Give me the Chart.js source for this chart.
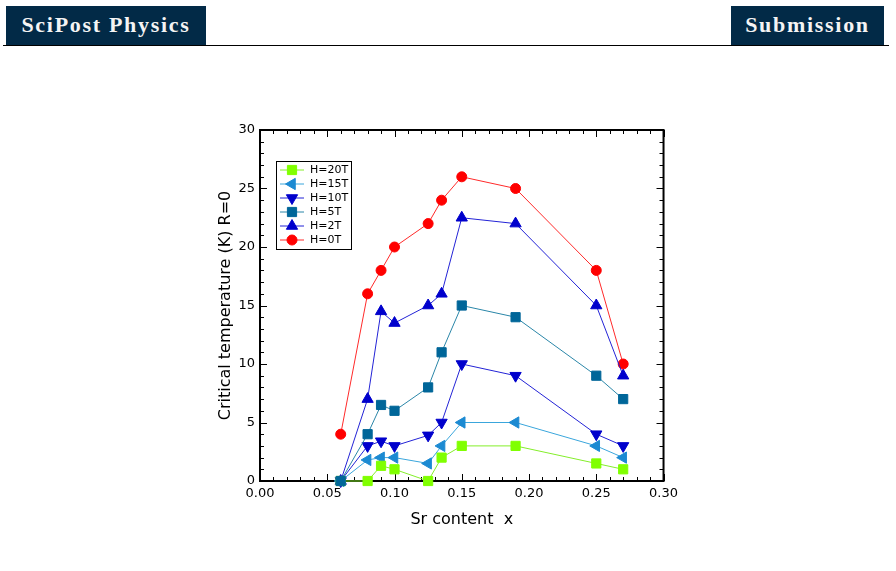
<!DOCTYPE html>
<html>
<head>
<meta charset="utf-8">
<title>Critical temperature vs Sr content</title>
<script src="https://cdn.jsdelivr.net/npm/chart.js@4/dist/chart.umd.min.js"></script>
<style>
  html, body { margin: 0; padding: 0; background: #fff; }
  body { width: 896px; height: 571px; position: relative; overflow: hidden; }
  .tag {
    position: absolute; top: 6px; height: 39px; background: #022a47; color: #f4f4f4;
    font: bold 22px "Liberation Serif", "DejaVu Serif", serif; letter-spacing: 1.7px;
    line-height: 38px; text-align: center;
  }
  #rule { position: absolute; left: 3px; top: 45px; width: 886px; height: 1px; background: #000; }
  #plotBox { position: absolute; left: 200px; top: 110px; width: 483px; height: 430px; }
</style>
</head>
<body>
<div class="tag" style="left:6px;width:200px">SciPost Physics</div>
<div class="tag" style="left:731px;width:153px">Submission</div>
<div id="rule"></div>
<div id="plotBox"><canvas id="tcChart" width="483" height="430"></canvas></div>

<script>
// ── Data ─────────────────────────────────────────────────────
const srContent = [0.06, 0.08, 0.09, 0.10, 0.125, 0.135, 0.15, 0.19, 0.25, 0.27];

const tc0T  = [4, 16, 18, 20, 22, 24, 26, 25, 18, 10];
const tc2T  = [0, 7, 14.5, 13.5, 15, 16, 22.5, 22, 15, 9];
const tc5T  = [0, 4, 6.5, 6, 8, 11, 15, 14, 9, 7];
const tc10T = [0, 3, 3.4, 3, 3.9, 5, 10, 9, 4, 3];
const tc15T = [0, 1.8, 2, 2, 1.5, 3, 5, 5, 3, 2];
const tc20T = [0, 0, 1.3, 1, 0, 2, 3, 3, 1.5, 1];

const xTicks = [0, 0.05, 0.10, 0.15, 0.20, 0.25, 0.30];
const yTicks = [0, 5, 10, 15, 20, 25, 30];

// ── Helpers ─────────────────────────────────────────────────
const toPoints = ys => ys.map((y, i) => ({ x: srContent[i], y }));

function series(label, values, marker, line, style, radius, rotation, order) {
  return {
    label,
    data: toPoints(values),
    borderColor: line,
    backgroundColor: marker,
    pointBackgroundColor: marker,
    pointBorderColor: marker,
    pointBorderWidth: 1,
    pointStyle: style,
    pointRadius: radius,
    pointRotation: rotation,
    borderWidth: 1,
    showLine: true,
    tension: 0,
    clip: false,
    order
  };
}

// legend top → bottom, same as the figure
const datasets = [
  series('H=20T', tc20T, '#80ff00', '#84ee2a', 'rect',     6.5, 0,   1),
  series('H=15T', tc15T, '#1c8ad2', '#3aa6dc', 'triangle', 6.5, -90, 1),
  series('H=10T', tc10T, '#0000cc', '#2323d6', 'triangle', 6.5, 180, 1),
  series('H=5T',  tc5T,  '#006699', '#2a86a8', 'rect',     6.5, 0,   0),
  series('H=2T',  tc2T,  '#0000cc', '#2323d6', 'triangle', 6.5, 0,   1),
  series('H=0T',  tc0T,  '#ff0000', '#ff2a2a', 'circle',   5,   0,   1)
];

// ── Frame with inward ticks on all four sides ───────────────
const frameTicks = {
  id: 'frameTicks',
  beforeDatasetsDraw(chart) {
    const { ctx, chartArea: a, scales: { x, y } } = chart;
    ctx.save();
    ctx.strokeStyle = '#000';
    ctx.lineWidth = 1;
    ctx.beginPath();
    for (let i = 0; i <= 30; i++) {
      const px = Math.round(x.getPixelForValue(i / 100)) + 0.5;
      const len = i % 5 === 0 ? 7 : 4;
      ctx.moveTo(px, a.bottom); ctx.lineTo(px, a.bottom - len);
      ctx.moveTo(px, a.top);    ctx.lineTo(px, a.top + len);
    }
    for (let i = 0; i <= 30; i++) {
      const py = Math.round(y.getPixelForValue(i)) + 0.5;
      const len = i % 5 === 0 ? 7 : 4;
      ctx.moveTo(a.left, py);  ctx.lineTo(a.left + len, py);
      ctx.moveTo(a.right, py); ctx.lineTo(a.right - len, py);
    }
    ctx.stroke();
    ctx.lineWidth = 2;
    ctx.strokeRect(a.left, a.top, a.right - a.left, a.bottom - a.top);
    ctx.restore();
  }
};

// ── Boxed legend inside the plot, upper left ────────────────
const boxLegend = {
  id: 'boxLegend',
  afterDraw(chart) {
    const { ctx, chartArea: a } = chart;
    const left = a.left + 16, top = a.top + 31, w = 75, rowH = 14;
    ctx.save();
    ctx.strokeStyle = '#000';
    ctx.lineWidth = 1;
    ctx.strokeRect(left + 0.5, top + 0.5, w, rowH * datasets.length + 4);
    ctx.font = '11px "DejaVu Sans", sans-serif';
    ctx.textBaseline = 'middle';
    datasets.forEach((ds, i) => {
      const cy = top + 9 + i * rowH;
      ctx.strokeStyle = ds.borderColor;
      ctx.beginPath();
      ctx.moveTo(left + 4, cy); ctx.lineTo(left + 28, cy);
      ctx.stroke();
      ctx.fillStyle = ds.pointBackgroundColor;
      ctx.strokeStyle = ds.pointBorderColor;
      Chart.helpers.drawPoint(ctx, {
        pointStyle: ds.pointStyle, rotation: ds.pointRotation,
        radius: ds.pointRadius, borderWidth: 1
      }, left + 16, cy);
      ctx.fillStyle = '#000';
      ctx.fillText(ds.label, left + 34, cy + 0.5);
    });
    ctx.restore();
  }
};

// ── Chart ───────────────────────────────────────────────────
const tickFont = { family: '"DejaVu Sans", sans-serif', size: 13 };
const titleFont = { family: '"DejaVu Sans", sans-serif', size: 16 };

new Chart(document.getElementById('tcChart'), {
  type: 'scatter',
  data: { datasets },
  options: {
    responsive: false,
    animation: false,
    layout: { padding: { left: 0, right: 17, top: 20, bottom: 0 } },
    plugins: { legend: { display: false }, tooltip: { enabled: false } },
    scales: {
      x: {
        type: 'linear', min: 0, max: 0.3,
        afterFit: s => { s.height = 59; },
        afterBuildTicks: s => { s.ticks = xTicks.map(v => ({ value: v })); },
        grid: { display: false, drawTicks: false }, border: { display: false },
        ticks: {
          font: tickFont, color: '#000', padding: 5, maxRotation: 0, autoSkip: false,
          callback: v => v.toFixed(2)
        },
        title: { display: true, text: 'Sr content  x', font: titleFont, color: '#000',
                 padding: { top: 0, bottom: 11 } }
      },
      y: {
        type: 'linear', min: 0, max: 30,
        afterFit: s => { s.width = 60; },
        afterBuildTicks: s => { s.ticks = yTicks.map(v => ({ value: v })); },
        grid: { display: false, drawTicks: false }, border: { display: false },
        ticks: { font: tickFont, color: '#000', padding: 5, autoSkip: false },
        title: { display: true, text: 'Critical temperature (K) R=0', font: titleFont, color: '#000',
                 padding: { top: 16, bottom: 0 } }
      }
    }
  },
  plugins: [frameTicks, boxLegend]
});
</script>
</body>
</html>
